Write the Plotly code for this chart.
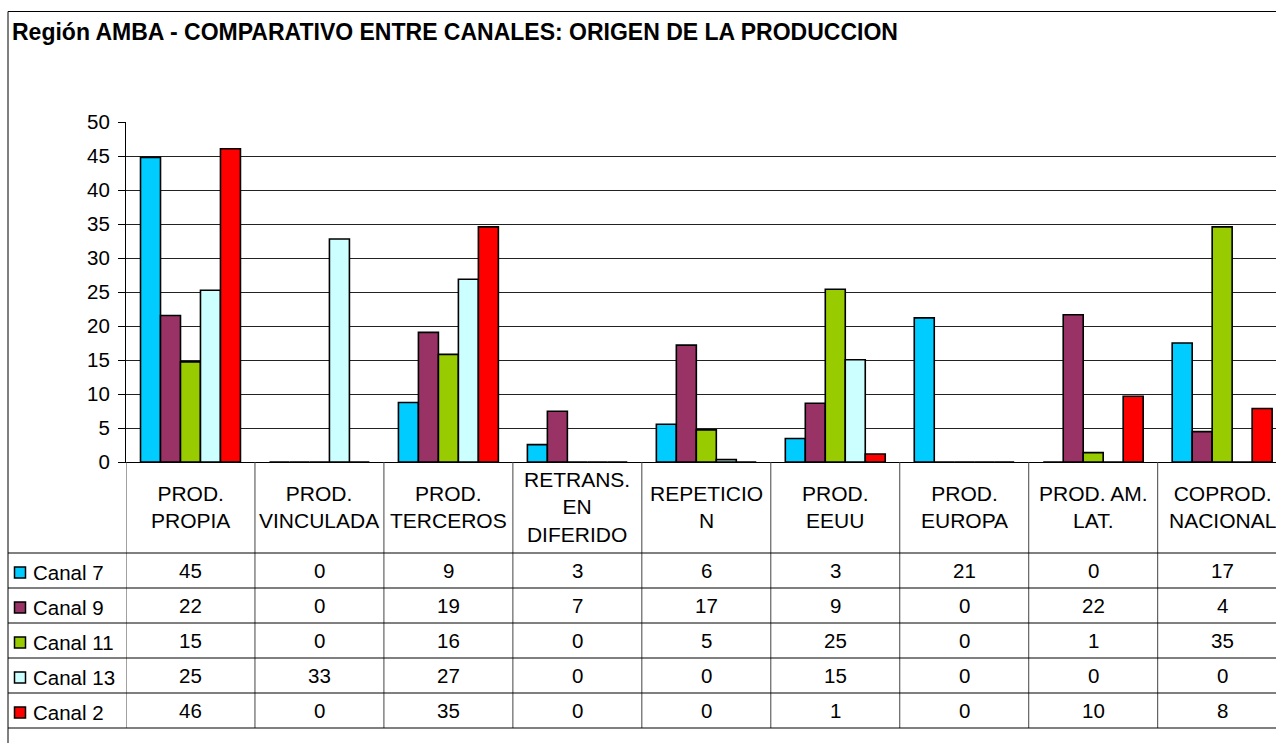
import plotly.graph_objects as go

# ---------------- data ----------------
categories = ["PROD.<br>PROPIA", "PROD.<br>VINCULADA", "PROD.<br>TERCEROS",
              "RETRANS.<br>EN<br>DIFERIDO", "REPETICIO<br>N", "PROD.<br>EEUU",
              "PROD.<br>EUROPA", "PROD. AM.<br>LAT.", "COPROD.<br>NACIONAL"]
series_names = ["Canal 7", "Canal 9", "Canal 11", "Canal 13", "Canal 2"]
canal7 = [44.8, 0, 8.75, 2.56, 5.55, 3.45, 21.2, 0, 17.49]
canal9 = [21.55, 0, 19.06, 7.47, 17.19, 8.65, 0, 21.66, 4.47]
canal11 = [14.73, 0, 15.82, 0, 4.72, 25.4, 0, 1.38, 34.58]
canal13 = [25.25, 32.8, 26.87, 0, 0.35, 15.03, 0, 0, 0]
canal2 = [46.07, 0, 34.58, 0, 0, 1.18, 0, 9.68, 7.86]
y_ticks = [0, 5, 10, 15, 20, 25, 30, 35, 40, 45, 50]
title_text = "Región AMBA - COMPARATIVO ENTRE CANALES: ORIGEN DE LA PRODUCCION"

series_values = [canal7, canal9, canal11, canal13, canal2]
colors = ["#00CCFF", "#993366", "#99CC00", "#CCFFFF", "#FF0000"]

# ---------------- layout helpers ----------------
W, H = 1276, 743
FONT = "Liberation Sans, Arial, sans-serif"


def px(x):
    return x / W


def py(y):
    return 1 - y / H


PLOT_LEFT, PLOT_TOP, PLOT_BOTTOM = 126, 122, 462
CAT_W = 128.96
x_end = -0.5 + (W - PLOT_LEFT) / CAT_W
HEADER_BOTTOM = 553
ROW_H = 35

fig = go.Figure()
xs = list(range(len(categories)))
for name, vals, col in zip(series_names, series_values, colors):
    fig.add_trace(go.Bar(
        x=xs, y=vals, name=name,
        marker=dict(color=col, line=dict(color="black", width=1.6)),
        showlegend=False, hoverinfo="skip",
    ))

shapes = []
annotations = []

# title
annotations.append(dict(
    text="<b>" + title_text + "</b>", xref="paper", yref="paper",
    x=px(10), y=py(32), xanchor="left", yanchor="middle", showarrow=False,
    font=dict(size=23, color="black", family=FONT),
))

# chart frame
shapes.append(dict(type="rect", xref="paper", yref="paper",
                   x0=px(8), x1=1.1, y0=py(11.5), y1=-0.1,
                   line=dict(color="black", width=1), fillcolor="rgba(0,0,0,0)",
                   layer="below"))

# table header labels
for i, cat in enumerate(categories):
    annotations.append(dict(
        text=cat, xref="x", yref="paper", x=i, y=py((PLOT_BOTTOM + HEADER_BOTTOM) / 2),
        xanchor="center", yanchor="middle", showarrow=False, align="center",
        font=dict(size=21, color="black", family=FONT),
    ))

# table vertical lines (category boundaries)
table_bottom = HEADER_BOTTOM + ROW_H * len(series_names)
for k in range(len(categories)):
    shapes.append(dict(type="line", xref="x", yref="paper",
                       x0=k - 0.5, x1=k - 0.5, y0=py(PLOT_BOTTOM), y1=py(table_bottom),
                       line=dict(color="#444444", width=1)))

# table horizontal lines
for r in range(len(series_names) + 1):
    yy = HEADER_BOTTOM + ROW_H * r
    shapes.append(dict(type="line", xref="paper", yref="paper",
                       x0=px(8), x1=1, y0=py(yy), y1=py(yy),
                       line=dict(color="black", width=1)))

# table rows
for r, (name, vals, col) in enumerate(zip(series_names, series_values, colors)):
    yc = HEADER_BOTTOM + ROW_H * r + ROW_H / 2
    shapes.append(dict(type="rect", xref="paper", yref="paper",
                       x0=px(14.5), x1=px(25.5), y0=py(yc + 7.5), y1=py(yc - 3.5),
                       fillcolor=col, line=dict(color="black", width=1.5)))
    annotations.append(dict(
        text=name, xref="paper", yref="paper", x=px(31), y=py(yc + 2),
        xanchor="left", yanchor="middle", showarrow=False,
        font=dict(size=20.5, color="black", family=FONT),
    ))
    for i, v in enumerate(vals):
        annotations.append(dict(
            text=str(int(round(v))), xref="x", yref="paper", x=i, y=py(yc),
            xanchor="center", yanchor="middle", showarrow=False,
            font=dict(size=20.5, color="black", family=FONT),
        ))

fig.update_layout(
    width=W, height=H, autosize=False,
    margin=dict(l=0, r=0, t=0, b=0, pad=0, autoexpand=False),
    paper_bgcolor="white", plot_bgcolor="white",
    barmode="group", bargap=0.225, bargroupgap=0,
    font=dict(family=FONT, color="black", size=20),
    xaxis=dict(domain=[px(PLOT_LEFT), 1], range=[-0.5, x_end], automargin=False,
               showgrid=False, zeroline=False, showticklabels=False,
               showline=True, linecolor="black", linewidth=1, ticks=""),
    yaxis=dict(domain=[py(PLOT_BOTTOM), py(PLOT_TOP)], range=[0, 50], automargin=False,
               tickvals=y_ticks, ticks="outside", ticklen=7, tickcolor="black",
               ticklabelstandoff=4,
               showline=True, linecolor="black", linewidth=1,
               showgrid=True, gridcolor="#222222", gridwidth=1, zeroline=False,
               tickfont=dict(size=20.5, color="black", family=FONT)),
    shapes=shapes, annotations=annotations,
)

fig.write_html(
    "out.html",
    config={"displayModeBar": False},
    post_script="document.body.style.margin='0';document.body.style.overflow='hidden';",
)
